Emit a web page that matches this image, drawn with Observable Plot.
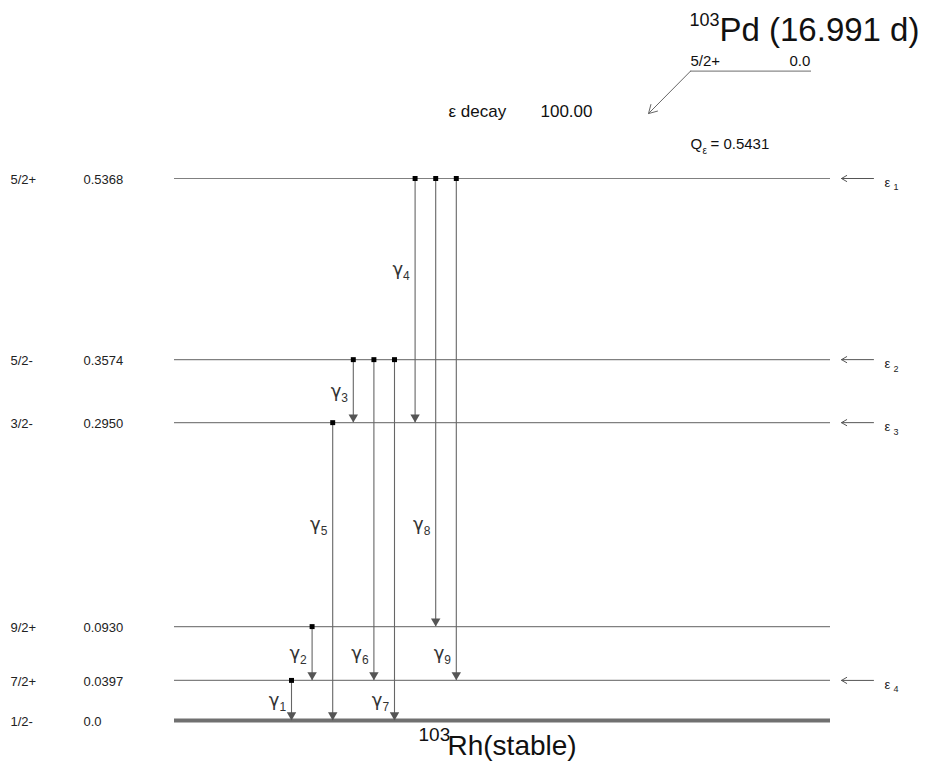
<!DOCTYPE html>
<html>
<head>
<meta charset="utf-8">
<script src="https://cdn.jsdelivr.net/npm/d3@7"></script>
<script src="https://cdn.jsdelivr.net/npm/@observablehq/plot@0.6"></script>
<style>
  html, body { margin: 0; padding: 0; background: #fff; }
  #chart svg { display: block; }
</style>
</head>
<body>
<div id="chart"></div>
<script>
// ---------------- DATA ----------------
// Daughter levels of 103Rh (energy in MeV)
const levelEnergies = [0.5368, 0.3574, 0.2950, 0.0930, 0.0397, 0.0];
const levelSpins    = ["5/2+", "5/2-", "3/2-", "9/2+", "7/2+", "1/2-"];
const levelLabels   = ["0.5368", "0.3574", "0.2950", "0.0930", "0.0397", "0.0"];

// Gamma transitions
const gammaNumbers   = [1, 2, 3, 4, 5, 6, 7, 8, 9];
const gammaFrom      = [0.0397, 0.0930, 0.3574, 0.5368, 0.2950, 0.3574, 0.3574, 0.5368, 0.5368];
const gammaTo        = [0.0,    0.0397, 0.2950, 0.2950, 0.0,    0.0397, 0.0,    0.0930, 0.0397];
const gammaColumn    = [0, 1, 3, 6, 2, 4, 5, 7, 8];          // left-to-right order
const gammaLabelGap  = [0.0397, 0.0930, 0.3574, 0.5368, 0.2950, 0.0930, 0.0397, 0.2950, 0.0930]; // label sits in the gap below this level

// Electron-capture feedings
const feedLevels = [0.5368, 0.3574, 0.2950, 0.0397];
const feedNames  = ["1", "2", "3", "4"];

// Parent / daughter info
const parentMass     = "103";
const parentName     = "Pd (16.991 d)";
const parentSpin     = "5/2+";
const parentEnergy   = "0.0";
const decayMode      = "ε decay";
const decayBranch    = "100.00";
const qValue         = 0.5431;
const qLabel         = "0.5431";
const daughterMass   = "103";
const daughterName   = "Rh(stable)";

// ---------------- BUILD ----------------
const levels = levelEnergies.map((e, i) => ({energy: e, spin: levelSpins[i], label: levelLabels[i]}));
const nextLower = e => levelEnergies[levelEnergies.indexOf(e) + 1];
const gammas = gammaNumbers.map((n, i) => ({
  n, from: gammaFrom[i], to: gammaTo[i], col: gammaColumn[i],
  labelE: (gammaLabelGap[i] + nextLower(gammaLabelGap[i])) / 2
}));
const feeds = feedLevels.map((e, i) => ({energy: e, name: feedNames[i]}));

// layout: horizontal unit = one gamma column
const W = 925, H = 762;
const colX0 = 291, colStep = 20.6;
const X = p => (p - colX0) / colStep;          // page position -> column units
const pxPerMeV = (720 - 178) / 0.5368;
const yDomain = [-(H - 720) / pxPerMeV, 720 / pxPerMeV];

const lineL = X(174), lineR = X(830);
const parentLevelE = qValue + 0.1;             // parent level drawn above Q
const font = "Liberation Sans, Arial, Helvetica, sans-serif";
const greek = "DejaVu Sans, Liberation Sans, sans-serif";

const note = (text, dx, dy, size, extra = {}) =>
  Plot.text([text], {frameAnchor: "top-left", dx, dy, text: d => d, fontSize: size,
    textAnchor: "start", lineAnchor: "bottom", fill: "#111", ...extra});

const chart = Plot.plot({
  width: W, height: H,
  marginTop: 0, marginRight: 0, marginBottom: 0, marginLeft: 0,
  x: {domain: [X(0), X(W)], axis: null},
  y: {domain: yDomain, axis: null},
  style: {fontFamily: font, background: "#fff"},
  marks: [
    // level lines
    Plot.ruleY(levels.filter(d => d.energy > 0), {y: "energy", x1: () => lineL, x2: () => lineR, stroke: "#808080", strokeWidth: 1.2}),
    Plot.ruleY(levels.filter(d => d.energy === 0), {y: "energy", x1: () => lineL, x2: () => lineR, stroke: "#707070", strokeWidth: 4}),
    // level labels
    Plot.text(levels, {x: () => X(10), y: "energy", text: "spin", textAnchor: "start", fontSize: 13, fill: "#222", dy: 1}),
    Plot.text(levels, {x: () => X(83), y: "energy", text: "label", textAnchor: "start", fontSize: 13, fill: "#222", dy: 1}),
    // gamma shafts
    Plot.ruleX(gammas, {x: "col", y1: "from", y2: "to", stroke: "#666", strokeWidth: 1.1}),
    // arrow heads
    Plot.dot(gammas, {x: "col", y: "to", symbol: "triangle", rotate: 180, r: 3.5, fill: "#555", stroke: "none", dy: -5.5}),
    // start squares
    Plot.dot(gammas, {x: "col", y: "from", symbol: "square", r: 2.8, fill: "#000", stroke: "none"}),
    // gamma labels
    Plot.text(gammas, {x: "col", y: "labelE", text: () => "γ", dx: -12, textAnchor: "end", fontSize: 18, fontFamily: greek, fill: "#333"}),
    Plot.text(gammas, {x: "col", y: "labelE", text: d => String(d.n), dx: -12, dy: 7, textAnchor: "start", fontSize: 12, fill: "#333"}),
    // feeding arrows
    Plot.arrow(feeds, {x1: () => X(873), x2: () => X(841), y1: "energy", y2: "energy", stroke: "#555", strokeWidth: 1, headLength: 9}),
    Plot.text(feeds, {x: () => X(884), y: "energy", text: () => "ε", textAnchor: "start", fontSize: 13, fill: "#222", dy: 4}),
    Plot.text(feeds, {x: () => X(893), y: "energy", text: "name", textAnchor: "start", fontSize: 9, fill: "#222", dy: 9}),
    // parent level and decay arrow
    Plot.ruleY([parentLevelE], {y: d => d, x1: () => X(690), x2: () => X(811), stroke: "#8a8a8a", strokeWidth: 1.4}),
    Plot.arrow([parentLevelE], {x1: () => X(690), y1: d => d, x2: () => X(648), y2: d => d - 0.042, stroke: "#666", strokeWidth: 1, headLength: 14}),
    // header texts
    note(parentMass, 689, 25, 18),
    note(parentName, 719, 40, 33),
    note(parentSpin, 690, 65, 15),
    note(parentEnergy, 789, 65, 15),
    note(decayMode, 448, 116, 17),
    note(decayBranch, 540, 116, 17),
    note("Q", 690, 148, 15),
    note("ε", 702, 153, 10),
    note("= " + qLabel, 710, 148, 15),
    // daughter label
    note(daughterMass, 418, 740, 19),
    note(daughterName, 447, 754, 28)
  ]
});
document.getElementById("chart").appendChild(chart);
</script>
</body>
</html>
